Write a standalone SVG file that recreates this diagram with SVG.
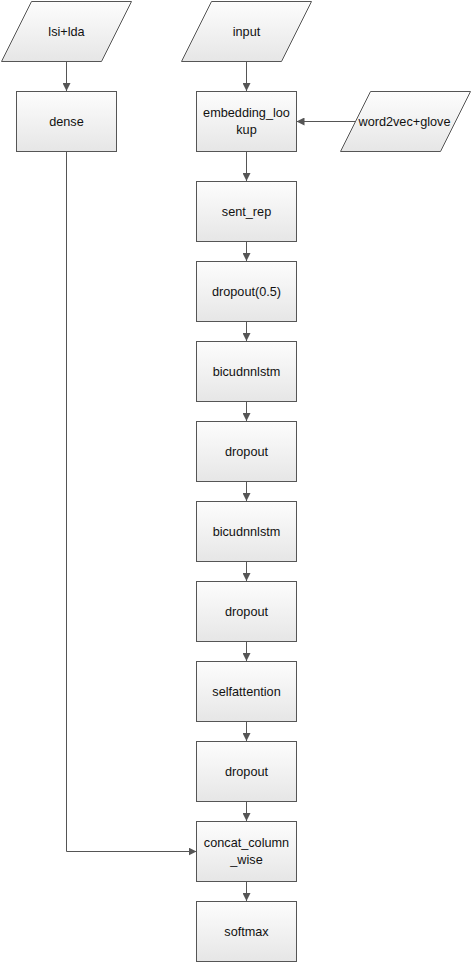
<svg xmlns="http://www.w3.org/2000/svg" width="471" height="962" viewBox="0 0 471 962">
<defs>
<linearGradient id="g" x1="0" y1="0" x2="0" y2="1">
<stop offset="0" stop-color="#fdfdfd"/>
<stop offset="1" stop-color="#e6e6e6"/>
</linearGradient>
<marker id="a" viewBox="0 0 8 8" refX="8" refY="4" markerWidth="8" markerHeight="8" markerUnits="userSpaceOnUse" orient="auto">
<path d="M0,0 L8,4 L0,8 Z" fill="#555"/>
</marker>
<style>
.n{fill:url(#g);stroke:#555;stroke-width:1}
.t{font-family:"Liberation Sans",Arial,sans-serif;font-size:12.7px;fill:#111;text-anchor:middle}
.c{fill:none;stroke:#555;stroke-width:1;marker-end:url(#a)}
</style>
</defs>
<g id="connectors">
<path class="c" d="M66.5,61 V91"/>
<path class="c" d="M246.5,61 V91"/>
<path class="c" d="M355,121.5 H296.5"/>
<path class="c" d="M246.5,151 V181"/>
<path class="c" d="M246.5,241 V261"/>
<path class="c" d="M246.5,321 V341"/>
<path class="c" d="M246.5,401 V421"/>
<path class="c" d="M246.5,481 V501"/>
<path class="c" d="M246.5,561 V581"/>
<path class="c" d="M246.5,641 V661"/>
<path class="c" d="M246.5,721 V741"/>
<path class="c" d="M246.5,801 V821"/>
<path class="c" d="M246.5,881 V901"/>
<path class="c" d="M66.5,151 V851.5 H196.5"/>
</g>
<g id="lsi_lda"><polygon class="n" points="31.5,1.5 131.5,1.5 101.5,61.5 1.5,61.5"/><text class="t" x="66.5" y="35.5">lsi+lda</text></g>
<g id="dense"><rect class="n" x="16.5" y="91.5" width="100" height="60"/><text class="t" x="66.5" y="125.5">dense</text></g>
<g id="input"><polygon class="n" points="211.5,1.5 311.5,1.5 281.5,61.5 181.5,61.5"/><text class="t" x="246.5" y="35.5">input</text></g>
<g id="word2vec_glove"><polygon class="n" points="370.5,91.5 470.5,91.5 440.5,151.5 340.5,151.5"/><text class="t" x="404.5" y="125.5">word2vec+glove</text></g>
<g id="embedding_lookup"><rect class="n" x="196.5" y="91.5" width="100" height="60"/><text class="t" x="246.5" y="117">embedding_loo</text><text class="t" x="246.5" y="134">kup</text></g>
<g id="sent_rep"><rect class="n" x="196.5" y="181.5" width="100" height="60"/><text class="t" x="246.5" y="215.5">sent_rep</text></g>
<g id="dropout05"><rect class="n" x="196.5" y="261.5" width="100" height="60"/><text class="t" x="246.5" y="295.5">dropout(0.5)</text></g>
<g id="bicudnnlstm1"><rect class="n" x="196.5" y="341.5" width="100" height="60"/><text class="t" x="246.5" y="375.5">bicudnnlstm</text></g>
<g id="dropout1"><rect class="n" x="196.5" y="421.5" width="100" height="60"/><text class="t" x="246.5" y="455.5">dropout</text></g>
<g id="bicudnnlstm2"><rect class="n" x="196.5" y="501.5" width="100" height="60"/><text class="t" x="246.5" y="535.5">bicudnnlstm</text></g>
<g id="dropout2"><rect class="n" x="196.5" y="581.5" width="100" height="60"/><text class="t" x="246.5" y="615.5">dropout</text></g>
<g id="selfattention"><rect class="n" x="196.5" y="661.5" width="100" height="60"/><text class="t" x="246.5" y="695.5">selfattention</text></g>
<g id="dropout3"><rect class="n" x="196.5" y="741.5" width="100" height="60"/><text class="t" x="246.5" y="775.5">dropout</text></g>
<g id="concat"><rect class="n" x="196.5" y="821.5" width="100" height="60"/><text class="t" x="246.5" y="847">concat_column</text><text class="t" x="246.5" y="864">_wise</text></g>
<g id="softmax"><rect class="n" x="196.5" y="901.5" width="100" height="60"/><text class="t" x="246.5" y="935.5">softmax</text></g>
</svg>
